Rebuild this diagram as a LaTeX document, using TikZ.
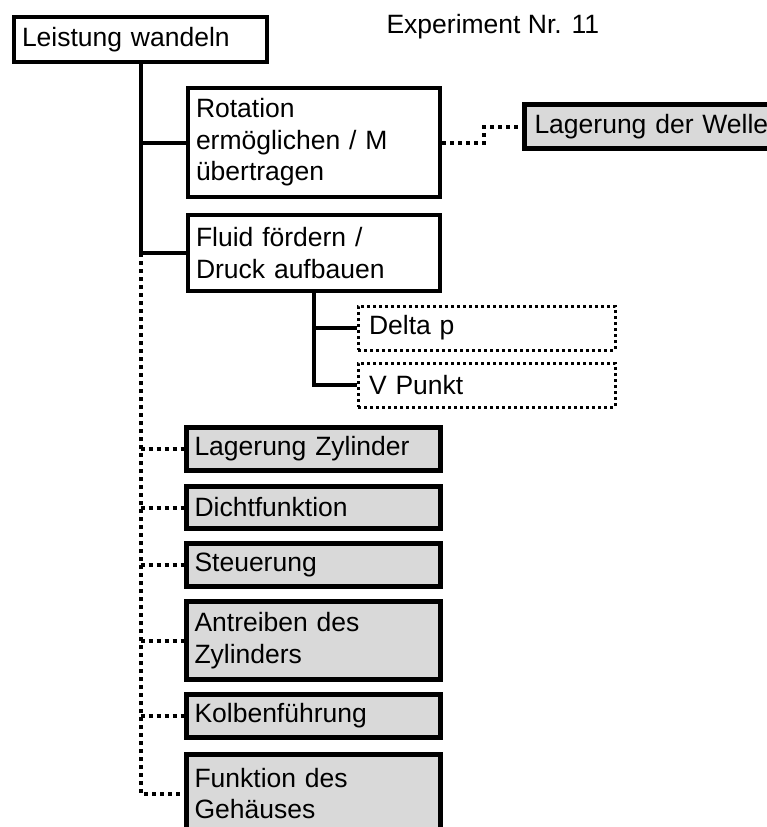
\documentclass[tikz,border=0pt]{standalone}
\usepackage{fontspec}
\setmainfont{Liberation Sans}
\begin{document}
\begin{tikzpicture}[x=1pt,y=-1pt,
  every node/.style={font=\fontsize{26.5}{31.5}\selectfont},
  fn/.style={draw, line width=4pt, fill=white, anchor=north west, align=left,
    inner xsep=8pt, inner ysep=0pt, text width=236pt},
  gn/.style={fn, line width=5pt, fill=black!15, text width=238pt},
  dn/.style={fn, line width=3pt, dash pattern=on 3pt off 3pt, inner xsep=11pt, text width=235pt},
  solidline/.style={line width=4pt},
  dotline/.style={line width=4pt, dash pattern=on 4pt off 4pt}
]
\useasboundingbox (0,0) rectangle (767,827);
\clip (0,0) rectangle (767,827);

% root and label
\node[fn, text width=237pt, minimum height=45pt] (lw) at (12,15) {Leistung wandeln};
\node[anchor=base west] (exp) at (383,33) {Experiment Nr. 11};

% main functions
\node[fn, minimum height=109pt] (rot) at (186,86) {Rotation\\ermöglichen / M\\übertragen};
\node[fn, minimum height=76pt] (fluid) at (186,213) {Fluid fördern /\\Druck aufbauen};

% sub functions of fluid
\node[dn, minimum height=44pt] (delta) at (356.5,304.5) {Delta p};
\node[dn, minimum height=44pt] (vpunkt) at (356.5,361.5) {V Punkt};

% component related functions
\node[gn, inner xsep=10pt, text width=236pt, minimum height=44pt] (welle) at (522,102) {Lagerung der Welle};
\node[gn, minimum height=43pt] (lagz) at (184,425) {Lagerung Zylinder};
\node[gn, minimum height=42pt] (dicht) at (184,484) {Dichtfunktion};
\node[gn, minimum height=43pt] (steuer) at (184,541) {Steuerung};
\node[gn, minimum height=78pt] (antr) at (184,599) {Antreiben des\\Zylinders};
\node[gn, minimum height=43pt] (kolben) at (184,692) {Kolbenführung};
\node[gn, minimum height=78pt] (funk) at (184,752) {Funktion des\\Gehäuses};

% solid tree
\draw[solidline] (lw.south) |- (fluid.west);
\draw[solidline] (lw.south |- rot.west) -- (rot.west);
\draw[solidline] (fluid.south) |- (vpunkt.west);
\draw[solidline] (fluid.south |- delta.west) -- (delta.west);

% dotted tree
\draw[dotline] (lw.south |- fluid.west) |- (funk.west);
\foreach \n in {lagz,dicht,steuer,antr,kolben}
  \draw[dotline] (lw.south |- \n.west) -- (\n.west);
\draw[dotline] (rot.east) -- ++(42,0) |- (welle.west);
\end{tikzpicture}
\end{document}
